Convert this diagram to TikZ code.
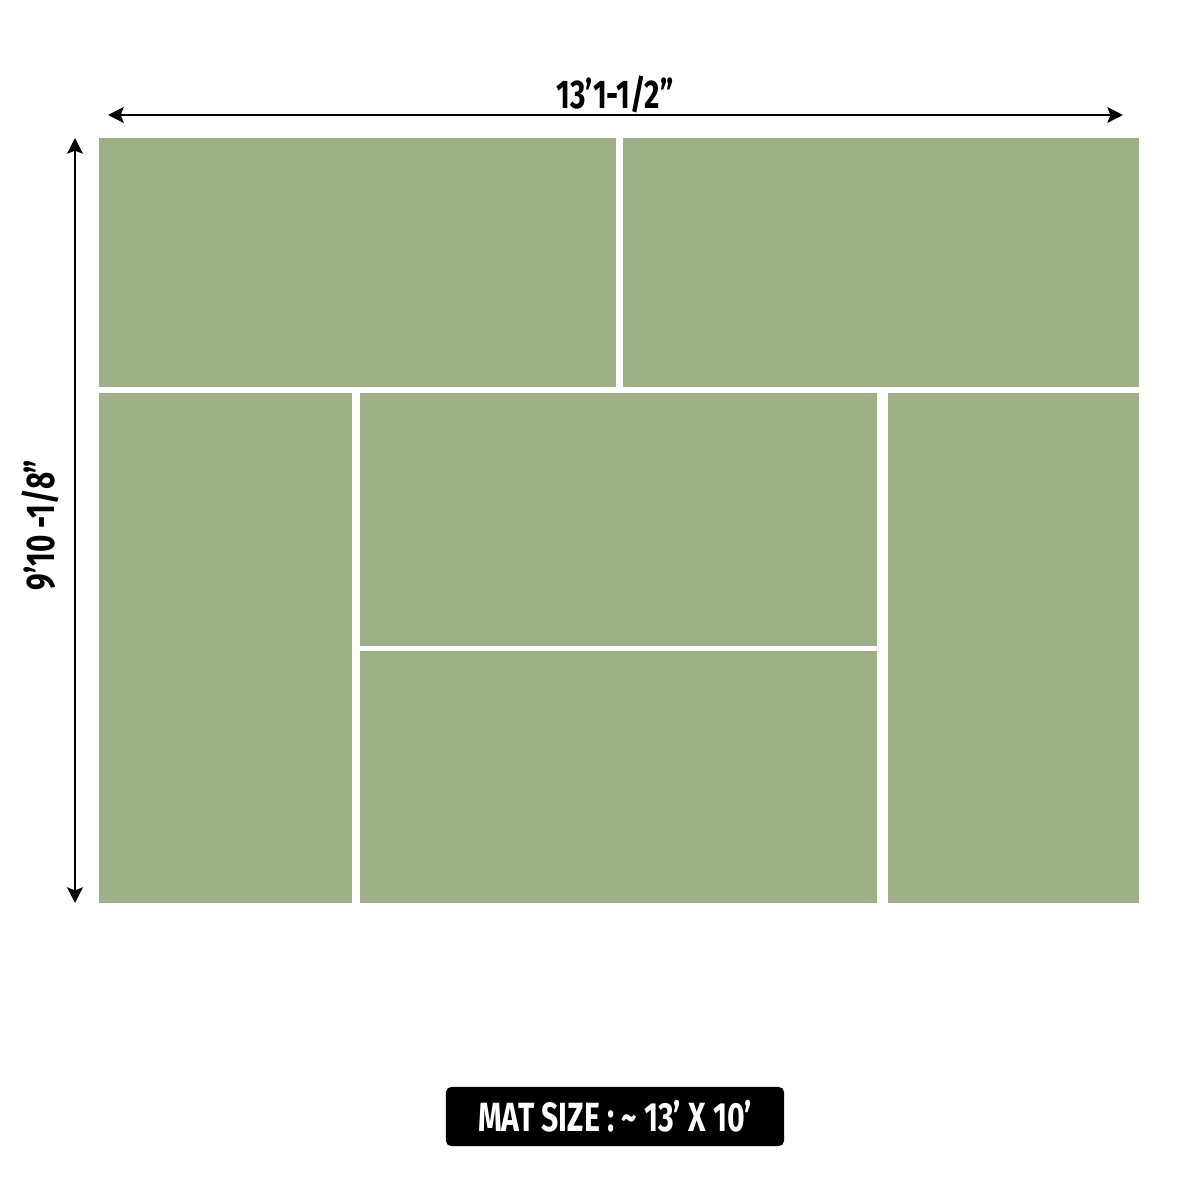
\documentclass[tikz,border=0pt]{standalone}
\usepackage{fontspec}
\newfontfamily\dimfont[FakeStretch=0.74]{Fira Sans}
\usetikzlibrary{arrows.meta,calc}
\definecolor{matgreen}{RGB}{158,176,136}
\tikzstyle{panelstyle}=[fill=matgreen]
\tikzstyle{dimstyle}=[{Stealth[length=4.4pt,width=4.4pt,inset=0.8pt]}-{Stealth[length=4.4pt,width=4.4pt,inset=0.8pt]},line width=0.85pt,black]
\tikzstyle{labelstyle}=[inner sep=0pt,font=\dimfont\bfseries\fontsize{11.4}{13}\selectfont]

\begin{document}
\begin{tikzpicture}[x=0.01cm,y=-0.01cm]

      % one unit is one pixel of the 1200 x 1200 picture, y runs down
      \useasboundingbox (0,0) rectangle (1200,1200);
      \def\mleft{99}   % left edge of the mat
      \def\mright{1139} % right edge of the mat
      \def\mtop{138}   % top edge of the mat
      \def\mbot{903}   % bottom edge of the mat

      % top row of panels
      \fill[panelstyle] (\mleft,\mtop) rectangle (616,387);
      \fill[panelstyle] (623,\mtop) rectangle (\mright,387);
      % bottom row: two upright panels and two in the middle
      \fill[panelstyle] (\mleft,393) rectangle (352,\mbot);
      \fill[panelstyle] (360,393) rectangle (877,646);
      \fill[panelstyle] (360,651) rectangle (877,\mbot);
      \fill[panelstyle] (888,393) rectangle (\mright,\mbot);

      % ends of the size arrows
      \coordinate (wl) at (108,115);
      \coordinate (wr) at (1123,115);
      \coordinate (ht) at (75,138);
      \coordinate (hb) at (75,903);
      \draw[dimstyle] (wl) -- (wr);
      \draw[dimstyle] (ht) -- (hb);

      % size labels
      \node[labelstyle] at (615,94) (width) {13’1-1/2”};
      \node[labelstyle,rotate=90] at (40,525) (height) {9’10 -1/8”};

      % mat size box
      \node[labelstyle,fill=black,text=white,rounded corners=1.5pt,
            minimum width=3.38cm,minimum height=0.59cm,
            font=\dimfont\bfseries\fontsize{11.6}{14}\selectfont]
            at (615,1116.5) (matsize) {MAT SIZE :\ \textasciitilde{}\ 13’\ X\ 10’};

\end{tikzpicture}
\end{document}
